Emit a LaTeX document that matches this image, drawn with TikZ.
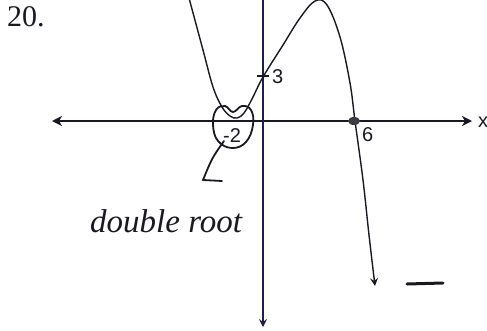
\documentclass[tikz,border=0pt]{standalone}
\usepackage{fontspec}
\setmainfont{Liberation Serif}
\newfontfamily\labfont{Liberation Sans}
\usetikzlibrary{arrows.meta}
\definecolor{ink}{RGB}{25,25,35}
\definecolor{axisblue}{RGB}{30,30,70}
\tikzset{
  axisline/.style={draw=ink, line width=2pt},
  yaxisline/.style={draw=axisblue, line width=1.3pt},
  curveline/.style={draw=ink, line width=1.4pt},
  handline/.style={draw=ink, line width=1.8pt, line cap=round, line join=round},
  lab/.style={font=\labfont\fontsize{20}{20}\selectfont, text=ink, inner sep=0pt},
}
\begin{document}
\begin{tikzpicture}[x=1pt,y=-1pt]
\useasboundingbox[fill=white] (0,0) rectangle (487,330);
% title
\node[anchor=north west, inner sep=0pt, font=\fontsize{30}{30}\selectfont, text=ink] (num) at (7,6) {20.};
% axes
\coordinate (xl) at (52,121);
\coordinate (xr) at (472,121);
\coordinate (yt) at (263,0);
\coordinate (yb) at (263,327);
\draw[axisline, {Stealth[length=10pt,width=10pt,inset=3pt]}-{Stealth[length=10pt,width=10pt,inset=3pt]}] (xl) -- (xr);
\draw[yaxisline, -{Stealth[length=8pt,width=8pt,inset=3pt]}] (yt) -- (yb);
\node[lab, anchor=west] (xlab) at (478,122) {x};
% curve
\draw[curveline, -{Stealth[length=8pt,width=8pt,inset=3pt]}] plot[smooth, tension=0.6] coordinates {
 (189,-2) (203,50) (213,87) (222,107) (230,116) (237,118) (244,113) (252,99) (263,77)
 (283,45) (300,18) (315,1) (327,5) (340,37) (350,83) (355,121) (363,180) (369,235) (375,286)};
% tick at 3
\coordinate (t3a) at (257,76);
\coordinate (t3b) at (269,76);
\draw[curveline] (t3a) -- (t3b);
\node[lab, anchor=west] (l3) at (272,77) {3};
% root at 6
\fill[ink!85] (354,121) ellipse (6pt and 4pt);
\node[lab, anchor=north west] (l6) at (362,127) {6};
% -2 label
\node[lab, anchor=north west] (lm2) at (223,128) {-2};
% hand-drawn loop
\draw[handline] plot[smooth cycle, tension=0.7] coordinates {
 (233,112) (242,106) (251,110) (253,125) (246,142) (232,148) (218,141) (213,125) (216,110) (225,106)};
% hand-drawn arrow
\coordinate (ha) at (224,141);
\coordinate (hb) at (212,158);
\coordinate (hc) at (203,180);
\coordinate (hd) at (222,181);
\draw[handline] (ha) .. controls (hb) .. (hc) -- (hd);
% handwritten note
\node[anchor=base west, inner sep=0pt, font=\itshape\fontsize{33}{33}\selectfont, text=ink] (note) at (90,232) {double root};
% dash
\coordinate (da) at (407,284);
\coordinate (db) at (443,283);
\draw[ink, line width=3pt, line cap=round] (da) -- (db);
\end{tikzpicture}
\end{document}
